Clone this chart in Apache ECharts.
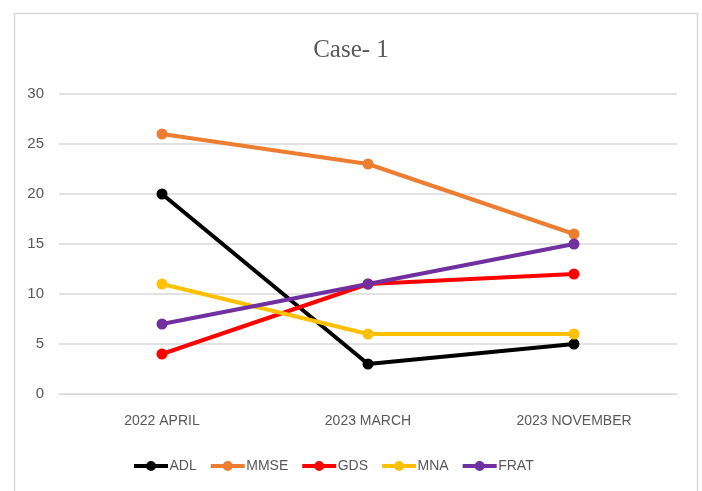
<!DOCTYPE html>
<html><head><meta charset="utf-8">
<script src="https://cdn.jsdelivr.net/npm/echarts@6/dist/echarts.min.js"></script>
<style>html,body{margin:0;padding:0;background:#fff}#c{width:702px;height:491px}</style>
</head><body><div id="c"></div>
<script>
const categories = ['2022 APRIL', '2023 MARCH', '2023 NOVEMBER'];
const ADL = [20, 3, 5];
const MMSE = [26, 23, 16];
const GDS = [4, 11, 12];
const MNA = [11, 6, 6];
const FRAT = [7, 11, 15];
const yTicks = [0, 5, 10, 15, 20, 25, 30];

const names = ['ADL', 'MMSE', 'GDS', 'MNA', 'FRAT'];
const dataSets = [ADL, MMSE, GDS, MNA, FRAT];
const colors = ['#000000', '#ED7D31', '#FF0000', '#FFC000', '#7030A0'];
const font = "'Liberation Sans Narrow', 'Arial Narrow', 'Liberation Sans', Arial, sans-serif";

const chart = echarts.init(document.getElementById('c'), null, {renderer: 'canvas'});
chart.setOption({
  animation: false,
  title: {
    text: 'Case- 1', left: 'center', top: 33,
    textStyle: {fontFamily: "'Liberation Serif', 'Times New Roman', serif", fontSize: 25, fontWeight: 'normal', color: '#595959'}
  },
  graphic: [{
    type: 'rect', shape: {x: 14.5, y: 13.5, width: 683, height: 490},
    style: {fill: 'none', stroke: '#d9d9d9', lineWidth: 1.5}, silent: true
  }],
  legend: {
    left: 129, top: 454, itemWidth: 35, itemHeight: 10, itemGap: 14,
    icon: 'path://M0,8 L34,8 L34,12 L0,12 Z M17,5 A5,5 0 1,1 17,15 A5,5 0 1,1 17,5 Z',
    textStyle: {fontFamily: font, fontSize: 14, color: '#595959', padding: [0, 0, 0, -4]},
    data: names.map(n => ({name: n}))
  },
  grid: {left: 59, right: 25, top: 94, bottom: 97},
  xAxis: {
    type: 'category', data: categories, boundaryGap: true,
    axisLine: {lineStyle: {color: '#d9d9d9', width: 1}}, axisTick: {show: false},
    axisLabel: {fontFamily: font, fontSize: 14, color: '#595959', margin: 20}
  },
  yAxis: {
    type: 'value', min: yTicks[0], max: yTicks[yTicks.length - 1], interval: 5,
    axisLine: {show: false}, axisTick: {show: false},
    axisLabel: {fontFamily: font, fontSize: 15, color: '#595959', margin: 15},
    splitLine: {lineStyle: {color: '#d9d9d9', width: 1.5}}
  },
  series: names.map((n, i) => ({
    name: n, type: 'line', data: dataSets[i],
    symbol: 'circle', symbolSize: 11,
    lineStyle: {color: colors[i], width: 4},
    itemStyle: {color: colors[i]}
  }))
});
</script></body></html>
